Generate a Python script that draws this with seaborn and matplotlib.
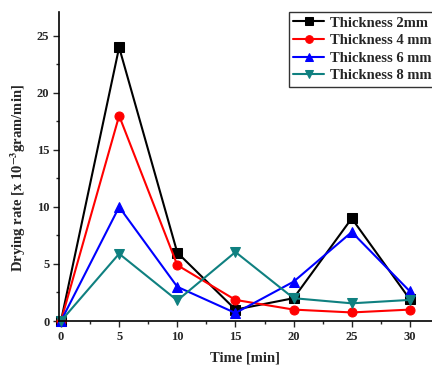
import matplotlib
matplotlib.use("Agg")
import matplotlib.pyplot as plt
import seaborn as sns
import pandas as pd
from matplotlib.ticker import MultipleLocator

sns.set_theme(style="ticks")
plt.rcParams['font.family'] = ['Liberation Serif', 'DejaVu Serif']
plt.rcParams['mathtext.fontset'] = 'stix'

time = [0, 5, 10, 15, 20, 25, 30]
t2 = [0, 24, 6, 1.0, 2.0, 9, 1.9]
t4 = [0, 18, 4.9, 1.85, 1.0, 0.75, 1.0]
t6 = [0, 10, 3.0, 0.7, 3.45, 7.8, 2.6]
t8 = [0, 5.9, 1.8, 6.05, 2.0, 1.55, 1.85]
labels = ["Thickness 2mm", "Thickness 4 mm", "Thickness 6 mm", "Thickness 8 mm"]
colors = ["#000000", "#ff0000", "#0000ff", "#0f8080"]
markers = ["s", "o", "^", "v"]

fig = plt.figure(figsize=(4.32, 3.68), dpi=100)
ax = fig.add_axes([59/432, 47/368, 1 - 59/432, (321-12)/368])

for vals, lab, col, mk in zip([t2, t4, t6, t8], labels, colors, markers):
    df = pd.DataFrame({"Time": time, "Rate": vals})
    sns.lineplot(data=df, x="Time", y="Rate", ax=ax, color=col, marker=mk,
                 markersize=6.5, markeredgecolor=col, linewidth=1.5, label=lab,
                 clip_on=False)

ax.set_xlim(-0.17, 31.9)
ax.set_ylim(0, 27.1)
ax.xaxis.set_major_locator(MultipleLocator(5))
ax.xaxis.set_minor_locator(MultipleLocator(2.5))
ax.yaxis.set_major_locator(MultipleLocator(5))
ax.yaxis.set_minor_locator(MultipleLocator(2.5))
ax.tick_params(which='major', length=4, width=1, direction='out', labelsize=9, pad=3)
ax.tick_params(which='minor', length=2.5, width=1, direction='out')
for lbl in ax.get_xticklabels() + ax.get_yticklabels():
    lbl.set_fontweight('bold')
for s in ['top', 'right']:
    ax.spines[s].set_visible(False)
for s in ['left', 'bottom']:
    ax.spines[s].set_linewidth(1.2)
    ax.spines[s].set_color('black')

ax.set_xlabel("Time [min]", fontsize=10.5, fontweight='bold', labelpad=6)
ax.set_ylabel(r"Drying rate [x 10$^{\mathbf{-3}}$gram/min]", fontsize=10.5, fontweight='bold')
ax.yaxis.set_label_coords(-0.083, 0.463)

leg = ax.legend(loc='upper left', bbox_to_anchor=(289/432, 1 - 12/368),
                bbox_transform=fig.transFigure, frameon=True, fancybox=False,
                prop={'family': 'Liberation Serif', 'weight': 'bold', 'size': 10.5},
                handlelength=2.1, handletextpad=0.4, labelspacing=0.3,
                borderpad=0.3, borderaxespad=0, markerscale=0.85)
leg.get_frame().set_edgecolor('black')
leg.get_frame().set_linewidth(1.0)

fig.savefig("out.png", dpi=100)
